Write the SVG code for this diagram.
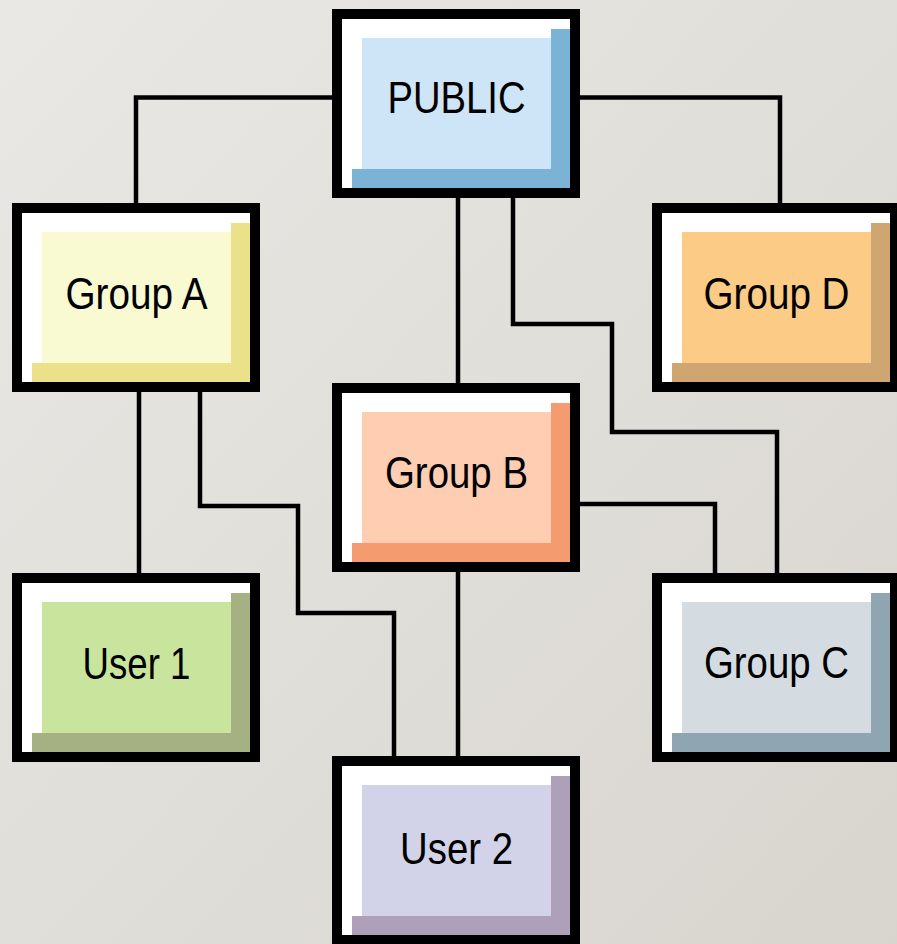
<svg xmlns="http://www.w3.org/2000/svg" width="897" height="944" viewBox="0 0 897 944">
<defs>
<linearGradient id="bg" x1="0" y1="0" x2="1" y2="1">
<stop offset="0" stop-color="#e9e8e4"/>
<stop offset="1" stop-color="#d8d5cf"/>
</linearGradient>
</defs>
<style>
.frame{fill:#fff;stroke:#000;stroke-width:10}
.conn{fill:none;stroke:#000;stroke-width:4.5;stroke-linejoin:miter}
.lbl{font-family:"Liberation Sans",Arial,sans-serif;font-size:44px;fill:#000;text-anchor:middle}
</style>
<rect x="0" y="0" width="897" height="944" fill="url(#bg)"/>
<g id="connectors">
<path class="conn" d="M332 97.5 H136 V203"/>
<path class="conn" d="M580 97.5 H780 V203"/>
<path class="conn" d="M458 198 V383"/>
<path class="conn" d="M513 198 V324 H612 V432 H777 V573"/>
<path class="conn" d="M580 504 H715 V573"/>
<path class="conn" d="M139 392 V573"/>
<path class="conn" d="M200 392 V506 H298 V613 H394 V756"/>
<path class="conn" d="M458 572 V756"/>
</g>
<g id="public" transform="translate(332,9)">
<rect class="frame" x="5" y="5" width="238" height="179"/>
<rect x="30" y="29" width="189" height="131" fill="#cde5f6"/>
<rect x="219" y="20" width="19" height="159" fill="#7ab3d6"/>
<rect x="20" y="160" width="218" height="19" fill="#7ab3d6"/>
<text class="lbl" x="124.5" y="104" textLength="138" lengthAdjust="spacingAndGlyphs">PUBLIC</text>
</g>
<g id="group-a" transform="translate(12,203)">
<rect class="frame" x="5" y="5" width="238" height="179"/>
<rect x="30" y="29" width="189" height="131" fill="#fafad2"/>
<rect x="219" y="20" width="19" height="159" fill="#ece18b"/>
<rect x="20" y="160" width="218" height="19" fill="#ece18b"/>
<text class="lbl" x="124.5" y="106" textLength="142" lengthAdjust="spacingAndGlyphs">Group A</text>
</g>
<g id="group-d" transform="translate(652,203)">
<rect class="frame" x="5" y="5" width="238" height="179"/>
<rect x="30" y="29" width="189" height="131" fill="#fccb86"/>
<rect x="219" y="20" width="19" height="159" fill="#cfa572"/>
<rect x="20" y="160" width="218" height="19" fill="#cfa572"/>
<text class="lbl" x="124.5" y="106" textLength="146" lengthAdjust="spacingAndGlyphs">Group D</text>
</g>
<g id="group-b" transform="translate(332,383)">
<rect class="frame" x="5" y="5" width="238" height="179"/>
<rect x="30" y="29" width="189" height="131" fill="#ffcdb2"/>
<rect x="219" y="20" width="19" height="159" fill="#f59b70"/>
<rect x="20" y="160" width="218" height="19" fill="#f59b70"/>
<text class="lbl" x="124.5" y="105" textLength="143" lengthAdjust="spacingAndGlyphs">Group B</text>
</g>
<g id="user-1" transform="translate(12,573)">
<rect class="frame" x="5" y="5" width="238" height="179"/>
<rect x="30" y="29" width="189" height="131" fill="#c9e59d"/>
<rect x="219" y="20" width="19" height="159" fill="#a5b183"/>
<rect x="20" y="160" width="218" height="19" fill="#a5b183"/>
<text class="lbl" x="124.5" y="106" textLength="108" lengthAdjust="spacingAndGlyphs">User 1</text>
</g>
<g id="group-c" transform="translate(652,573)">
<rect class="frame" x="5" y="5" width="238" height="179"/>
<rect x="30" y="29" width="189" height="131" fill="#d5dce1"/>
<rect x="219" y="20" width="19" height="159" fill="#8fa6b2"/>
<rect x="20" y="160" width="218" height="19" fill="#8fa6b2"/>
<text class="lbl" x="124.5" y="105" textLength="145" lengthAdjust="spacingAndGlyphs">Group C</text>
</g>
<g id="user-2" transform="translate(332,756)">
<rect class="frame" x="5" y="5" width="238" height="179"/>
<rect x="30" y="29" width="189" height="131" fill="#d2d3e8"/>
<rect x="219" y="20" width="19" height="159" fill="#ada0b8"/>
<rect x="20" y="160" width="218" height="19" fill="#ada0b8"/>
<text class="lbl" x="124.5" y="108" textLength="113" lengthAdjust="spacingAndGlyphs">User 2</text>
</g>
</svg>
